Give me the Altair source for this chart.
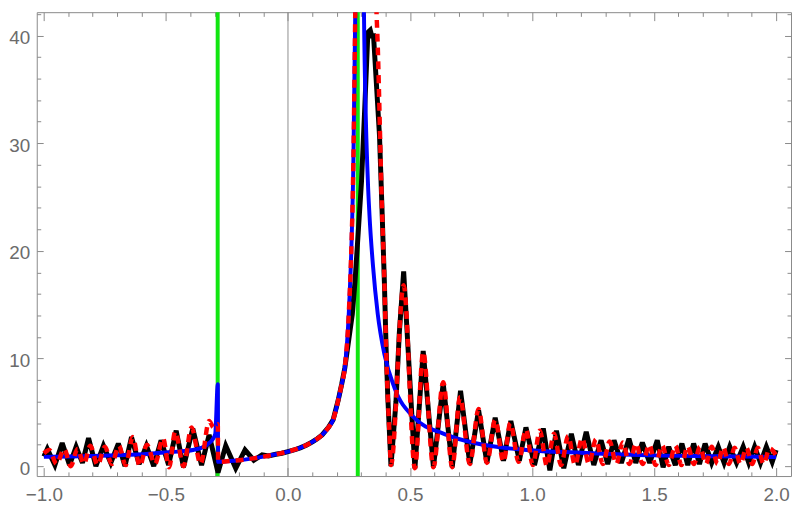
import altair as alt
import pandas as pd

# ---------------- data ----------------
black_x = [-1.0, -0.986, -0.955, -0.925, -0.895, -0.868, -0.842, -0.817, -0.787, -0.756,
           -0.726, -0.695, -0.668, -0.641, -0.61, -0.58, -0.55, -0.52, -0.489, -0.458,
           -0.428, -0.39, -0.354, -0.323, -0.2866, -0.255, -0.214, -0.176, -0.14, -0.106,
           -0.08, -0.05, -0.025, 0.0, 0.025, 0.05, 0.075, 0.1, 0.12, 0.14,
           0.166, 0.185, 0.2056, 0.22, 0.2328, 0.2635, 0.2745, 0.2878, 0.3012, 0.315,
           0.3275, 0.337, 0.345, 0.35, 0.355, 0.375, 0.3844, 0.395, 0.402, 0.409,
           0.416, 0.422, 0.4425, 0.456, 0.474, 0.52, 0.554, 0.596, 0.636, 0.673,
           0.707, 0.745, 0.781, 0.815, 0.849, 0.883, 0.913, 0.948, 0.975, 1.01,
           1.046, 1.073, 1.1, 1.13, 1.161, 1.19, 1.222, 1.253, 1.283, 1.31,
           1.336, 1.366, 1.397, 1.425, 1.452, 1.482, 1.513, 1.537, 1.56, 1.587,
           1.614, 1.638, 1.662, 1.686, 1.709, 1.736, 1.763, 1.787, 1.81, 1.838,
           1.865, 1.888, 1.912, 1.936, 1.96, 1.984, 2.0]
black_y = [0.9, 1.6, 0.1, 2.15, 0.1, 1.8, 0.3, 2.6, 0.0, 1.9,
           0.3, 2.1, 0.0, 2.7, 0.2, 1.9, 0.0, 2.4, 0.1, 3.3,
           -0.1, 3.5, 0.1, 2.9, -0.6, 1.9, -0.2, 1.5, 0.55, 1.05,
           0.95, 1.1, 1.2, 1.35, 1.5, 1.7, 1.95, 2.25, 2.55, 2.9,
           3.6, 4.3, 6.1, 7.6, 9.1, 14.1, 17.1, 21.7, 26.4, 33.5,
           40.3, 40.5, 39.8, 40.2, 38.3, 30.7, 24.5, 17.1, 11.0, 6.4,
           3.0, 0.0, 6.0, 12.3, 18.1, -0.2, 10.7, -0.1, 7.7, -0.1,
           7.0, 0.2, 5.2, 0.3, 4.5, 0.5, 4.2, 0.5, 3.6, 0.1,
           3.5, -0.4, 3.3, -0.2, 3.0, 0.1, 3.2, 0.1, 2.4, 0.2,
           2.4, 0.3, 2.55, 0.3, 2.2, 0.3, 2.4, -0.1, 1.8, 0.1,
           2.1, 0.1, 2.1, 0.2, 2.1, 0.3, 1.8, 0.3, 1.8, 0.3,
           1.8, 0.3, 1.8, 0.3, 1.8, 0.4, 1.5]

red_x = [-1.0, -0.978, -0.948, -0.917, -0.89, -0.862, -0.836, -0.81, -0.78, -0.75,
         -0.722, -0.693, -0.665, -0.636, -0.607, -0.578, -0.545, -0.512, -0.487, -0.462,
         -0.428, -0.395, -0.358, -0.323, -0.305, -0.2875, -0.2862, -0.25, -0.2, -0.15,
         -0.1, -0.05, 0.0, 0.05, 0.1, 0.14, 0.166, 0.185, 0.2056, 0.22,
         0.2328, 0.249, 0.2597, 0.2666, 0.276, 0.285, 0.32, 0.35, 0.3605, 0.368,
         0.3844, 0.395, 0.402, 0.409, 0.416, 0.422, 0.474, 0.52, 0.554, 0.596,
         0.636, 0.673, 0.705, 0.745, 0.781, 0.815, 0.849, 0.883, 0.911, 0.945,
         0.975, 1.003, 1.032, 1.061, 1.09, 1.119, 1.148, 1.176, 1.205, 1.233,
         1.262, 1.29, 1.318, 1.345, 1.372, 1.399, 1.426, 1.453, 1.48, 1.506,
         1.533, 1.56, 1.587, 1.612, 1.638, 1.663, 1.688, 1.712, 1.736, 1.76,
         1.783, 1.807, 1.83, 1.854, 1.878, 1.902, 1.925, 1.949, 1.973, 2.0]
red_y = [1.2, 1.5, 0.2, 1.6, 0.0, 1.6, 0.2, 1.9, 0.1, 1.8,
         0.2, 1.9, 0.1, 2.7, 0.0, 2.0, 0.2, 2.6, -0.1, 3.2,
         0.0, 3.6, 0.2, 4.2, 3.6, 3.9, 0.4, 0.45, 0.55, 0.7,
         0.88, 1.1, 1.35, 1.7, 2.25, 2.9, 3.6, 4.3, 6.1, 7.6,
         9.1, 14.1, 20.2, 26.4, 42.8, 62.0, 75.0, 58.0, 44.0, 38.9,
         24.5, 17.1, 11.0, 6.4, 3.0, 0.1, 16.8, -0.2, 10.6, -0.1,
         7.8, -0.1, 6.4, 0.2, 5.3, 0.3, 4.3, 0.4, 4.0, 0.4,
         3.4, 0.1, 3.3, 0.0, 3.0, 0.1, 2.8, 0.1, 2.6, 0.2,
         2.5, 0.2, 2.3, 0.2, 2.2, 0.2, 2.1, 0.2, 2.0, 0.1,
         1.95, 0.1, 1.9, 0.1, 1.85, 0.2, 1.8, 0.2, 1.8, 0.2,
         1.75, 0.2, 1.7, 0.2, 1.7, 0.2, 1.7, 0.2, 1.65, 1.0]

blue_x = [-1.0, -0.9, -0.8, -0.7, -0.6, -0.52, -0.45, -0.39, -0.355, -0.336,
          -0.32, -0.307, -0.298, -0.2875, -0.2862, -0.25, -0.2, -0.15, -0.1, -0.05,
          0.0, 0.05, 0.1, 0.14, 0.166, 0.185, 0.2056, 0.22, 0.2328, 0.249,
          0.2597, 0.2666, 0.276, 0.283, 0.292, 0.302, 0.311, 0.3275, 0.334, 0.348,
          0.368, 0.395, 0.436, 0.517, 0.639, 0.774, 0.977, 1.2, 1.5, 1.75, 2.0]
blue_y = [0.86, 0.9, 0.95, 1.02, 1.1, 1.25, 1.35, 1.5, 1.7, 1.9,
          2.2, 2.55, 3.0, 7.6, 0.4, 0.45, 0.55, 0.7, 0.88, 1.1,
          1.35, 1.7, 2.25, 2.9, 3.6, 4.3, 6.1, 7.6, 9.1, 14.1,
          20.2, 26.4, 42.8, 70.0, 95.0, 70.0, 42.8, 26.4, 23.3, 18.7,
          14.1, 10.4, 7.3, 4.5, 3.0, 2.1, 1.5, 1.25, 1.0, 0.92, 0.85]

green_x = [-0.288, 0.286]
zero_x = [0.0]

x_major = [-1.0, -0.5, 0.0, 0.5, 1.0, 1.5, 2.0]
x_minor = [-0.9, -0.8, -0.7, -0.6, -0.4, -0.3, -0.2, -0.1, 0.1, 0.2, 0.3, 0.4,
           0.6, 0.7, 0.8, 0.9, 1.1, 1.2, 1.3, 1.4, 1.6, 1.7, 1.8, 1.9]
y_major = [0, 10, 20, 30, 40]
y_minor = [2, 4, 6, 8, 12, 14, 16, 18, 22, 24, 26, 28, 32, 34, 36, 38, 42]

# ---------------- chart ----------------
W, H = 761, 468
FRAME = "#8a8a8a"
LABEL = "#6b6b6b"
FONT = "Liberation Sans"

xs = alt.Scale(domain=[-1.0293, 2.061], nice=False, zero=False)
ys = alt.Scale(domain=[-0.92, 42.17], nice=False, zero=False)

black = pd.DataFrame({"x": black_x, "y": black_y, "i": list(range(len(black_x)))})
red = pd.DataFrame({"x": red_x, "y": red_y, "i": list(range(len(red_x)))})
blue = pd.DataFrame({"x": blue_x, "y": blue_y, "i": list(range(len(blue_x)))})
green = pd.DataFrame({"x": green_x})
zero = pd.DataFrame({"x": zero_x})


def tick_axis(orient, values, size):
    off = -H if orient in ("top", "bottom") else -W
    return alt.Axis(orient=orient, offset=off, values=values, tickSize=size,
                    tickColor=FRAME, tickWidth=1, labels=False, domain=False,
                    grid=False, title=None)


x_label_axis = alt.Axis(orient="bottom", values=x_major, format=".1f", ticks=False,
                        tickSize=0, domain=False, grid=False, title=None,
                        labelPadding=10, labelFontSize=19, labelColor=LABEL,
                        labelFont=FONT, labelFlush=False, labelOverlap=False)
y_label_axis = alt.Axis(orient="left", values=y_major, ticks=False, tickSize=0,
                        domain=False, grid=False, title=None, labelPadding=7,
                        labelFontSize=19, labelColor=LABEL, labelFont=FONT,
                        labelOffset=2, labelOverlap=False)

zero_layer = alt.Chart(zero).mark_rule(color="#8f8f8f", strokeWidth=1).encode(
    x=alt.X("x:Q", scale=xs, axis=None))

green_layer = alt.Chart(green).mark_rule(color="#11e611", strokeWidth=4).encode(
    x=alt.X("x:Q", scale=xs, axis=None))

black_layer = alt.Chart(black).mark_line(color="black", strokeWidth=5, clip=True,
                                         strokeJoin="miter", strokeMiterLimit=3).encode(
    x=alt.X("x:Q", scale=xs, axis=x_label_axis),
    y=alt.Y("y:Q", scale=ys, axis=y_label_axis),
    order="i:Q")

blue_layer = alt.Chart(blue).mark_line(color="#0000ff", strokeWidth=4, clip=True,
                                       interpolate="monotone").encode(
    x=alt.X("x:Q", scale=xs, axis=None),
    y=alt.Y("y:Q", scale=ys, axis=None),
    order="i:Q")

red_layer = alt.Chart(red).mark_line(color="#ff0000", strokeWidth=4.5, clip=True,
                                     strokeDash=[8, 6], interpolate="monotone").encode(
    x=alt.X("x:Q", scale=xs, axis=None),
    y=alt.Y("y:Q", scale=ys, axis=None),
    order="i:Q")


def ticks_layer(xaxis, yaxis):
    return alt.Chart(black).mark_point(opacity=0).encode(
        x=alt.X("x:Q", scale=xs, axis=xaxis),
        y=alt.Y("y:Q", scale=ys, axis=yaxis))


t1 = ticks_layer(tick_axis("top", x_major, 8.5), tick_axis("right", y_major, 6.5))
t2 = ticks_layer(tick_axis("top", x_minor, 4.2), tick_axis("right", y_minor, 4))
t3 = ticks_layer(tick_axis("bottom", x_major, 8.5), tick_axis("left", y_major, 6.5))
t4 = ticks_layer(tick_axis("bottom", x_minor, 4.2), tick_axis("left", y_minor, 4))

chart = alt.layer(
    zero_layer, green_layer, black_layer, blue_layer, red_layer, t1, t2, t3, t4
).resolve_axis(
    x="independent", y="independent"
).properties(
    width=W, height=H,
    padding={"left": 0, "top": 0, "right": 0, "bottom": 0},
    background="white",
).configure_view(
    stroke=FRAME, strokeWidth=1
)

chart.save("out.html", embed_options={"renderer": "svg", "actions": False})
